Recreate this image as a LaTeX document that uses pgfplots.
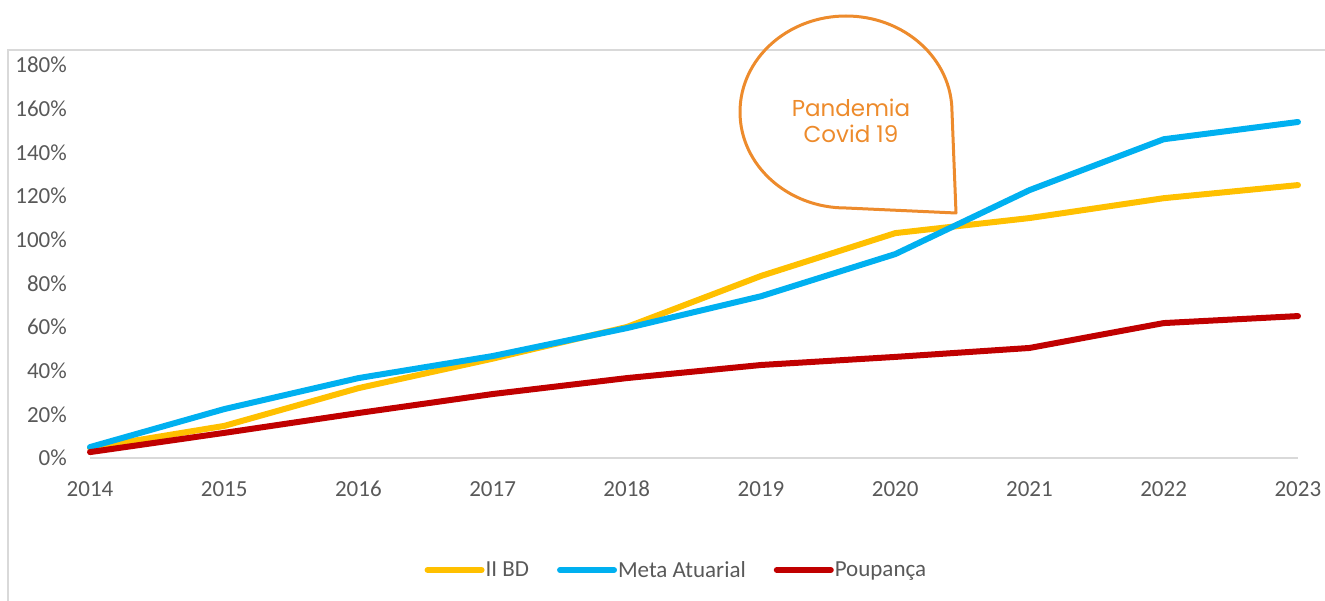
\documentclass[border=0pt]{standalone}
\usepackage{pgfplots}
\pgfplotsset{compat=1.18}
\usepackage{fontspec}
\setmainfont{Carlito}
\newfontfamily\calloutfont{Poppins}

\definecolor{cYellow}{HTML}{FFC000}
\definecolor{cBlue}{HTML}{00B0F0}
\definecolor{cRed}{HTML}{C00000}
\definecolor{cOrange}{HTML}{ED8B2C}
\definecolor{labelgray}{HTML}{595959}
\definecolor{framegray}{HTML}{D9D9D9}

\begin{document}
\begin{tikzpicture}
  \path[use as bounding box] (0pt,0pt) rectangle (1325pt,-601pt);
  % chart area frame
  \draw[framegray, line width=2pt] (8pt,-601pt) -- (8pt,-50pt) -- (1325pt,-50pt);

  \begin{axis}[
    scale only axis,
    width=1208pt, height=393pt,
    at={(90pt,-458pt)}, anchor=south west,
    xmin=2014, xmax=2023,
    ymin=0, ymax=180,
    xtick={2014,...,2023},
    ytick={0,20,...,180},
    axis x line*=bottom,
    axis y line*=left,
    x axis line style={-, draw=framegray, line width=2pt},
    y axis line style={draw=none},
    major tick length=0pt,
    tick style={draw=none},
    /pgf/number format/assume math mode=true,
    /pgf/number format/1000 sep={},
    yticklabel={\pgfmathprintnumber{\tick}\%},
    tick label style={font=\fontsize{23pt}{27pt}\selectfont, text=labelgray, inner sep=0pt},
    yticklabel style={anchor=east, xshift=-23pt},
    xticklabel style={anchor=north, yshift=-23pt},
    clip=false,
    legend columns=3,
    legend style={
      at={(0.485,-0.285)}, anchor=center,
      draw=none, fill=none, inner sep=0pt,
      font=\fontsize{23pt}{27pt}\selectfont, text=labelgray,
      nodes={inner sep=1pt, anchor=west},
      /tikz/every odd column/.append style={column sep=0pt},
      /tikz/every even column/.append style={column sep=27pt},
    },
    legend image code/.code={
      \draw[#1, line cap=round] (0pt,0pt) -- (54pt,0pt);
    },
    every axis plot/.append style={line width=6pt, line cap=round, line join=round, mark=none},
  ]
    \addplot[cYellow] coordinates {
      (2014,4.6) (2015,14.7) (2016,32.0) (2017,45.5) (2018,60.0)
      (2019,83.4) (2020,103.0) (2021,109.9) (2022,119.0) (2023,125.0)
    };
    \addlegendentry{II BD}
    \addplot[cBlue] coordinates {
      (2014,5.0) (2015,22.4) (2016,36.6) (2017,46.7) (2018,59.5)
      (2019,74.1) (2020,93.4) (2021,122.7) (2022,146.0) (2023,153.9)
    };
    \addlegendentry{Meta Atuarial}
    \addplot[cRed] coordinates {
      (2014,2.7) (2015,11.5) (2016,20.6) (2017,29.3) (2018,36.6)
      (2019,42.6) (2020,46.3) (2021,50.4) (2022,61.8) (2023,65.0)
    };
    \addlegendentry{Poupança}
  \end{axis}

  % callout bubble
  \begin{scope}[x=1pt, y=-1pt]
    \draw[cOrange, line width=3pt, line join=round]
      (846,208) arc[start angle=90, end angle=360, x radius=106, y radius=96]
      -- (956,213) -- cycle;
    \node[text=cOrange, align=center, font=\calloutfont\fontsize{23pt}{26pt}\selectfont]
      at (851,121) {Pandemia\\Covid 19};
  \end{scope}
\end{tikzpicture}
\end{document}
